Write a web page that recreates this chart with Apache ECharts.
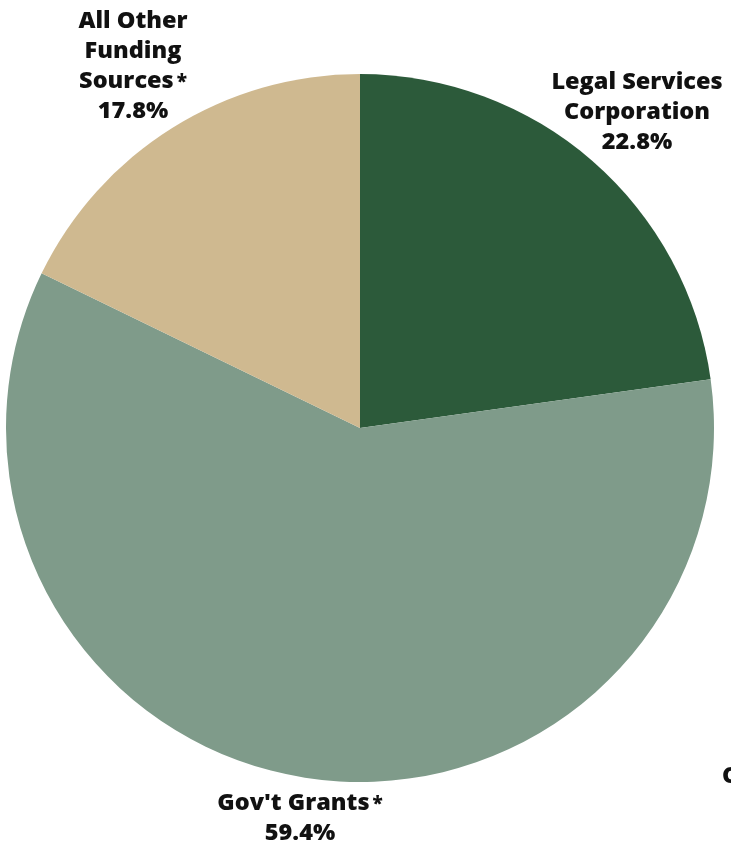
<!DOCTYPE html>
<html><head><meta charset="utf-8">
<script src="https://cdn.jsdelivr.net/npm/echarts@6/dist/echarts.min.js"></script>
<style>html,body{margin:0;padding:0;background:#fff}#c{width:731px;height:846px}</style>
</head><body><div id="c"></div>
<script>
const categories = ["Legal Services\nCorporation", "Gov't Grants", "All Other\nFunding\nSources"];
const starred = [false, true, true];
const values = [22.8, 59.4, 17.8];
const colors = ['#2c5a3a', '#7f9b8a', '#cfb990'];

const labelPos = [[637, 112], [300, 818], [133, 66]];

const chart = echarts.init(document.getElementById('c'));
chart.setOption({
  animation: false,
  series: [{
    type: 'pie',
    center: [360, 428],
    radius: 354,
    startAngle: 90,
    clockwise: true,
    data: categories.map((c, i) => ({name: c, value: values[i], itemStyle: {color: colors[i]}})),
    label: {
      show: true,
      position: 'outside',
      overflow: 'none',
      edgeDistance: 0,
      formatter: p => {
        const lines = categories[p.dataIndex].split('\n');
        const last = lines.pop();
        const out = lines.map(l => '{t|' + l + '}');
        out.push('{t|' + last + '}' + (starred[p.dataIndex] ? '{s|*}' : ''));
        out.push('{t|' + values[p.dataIndex].toFixed(1) + '%}');
        return out.join('\n');
      },
      align: 'center',
      rich: {
        t: {fontFamily: 'Open Sans', fontWeight: 800, fontSize: 23.5, color: '#111', lineHeight: 30, align: 'center'},
        s: {fontFamily: 'Open Sans', fontWeight: 800, fontSize: 19, color: '#111', lineHeight: 30, padding: [4, 0, 0, 3]}
      }
    },
    labelLine: {show: false},
    labelLayout: p => ({x: labelPos[p.dataIndex][0], y: labelPos[p.dataIndex][1], align: 'center', verticalAlign: 'middle', width: 260})
  }],
  graphic: [{
    type: 'text', left: 722, top: 764,
    style: {text: 'C', fontFamily: 'Open Sans', fontWeight: 800, fontSize: 23.5, fill: '#111'}
  }]
});
</script></body></html>
